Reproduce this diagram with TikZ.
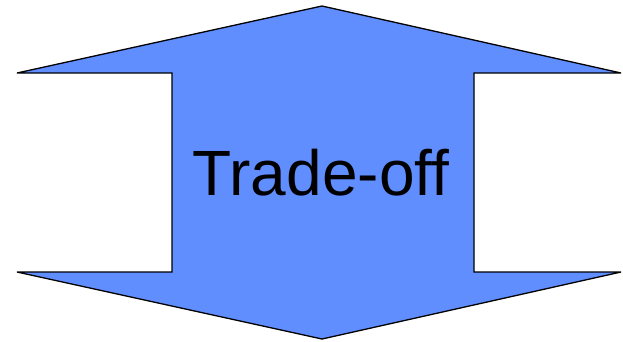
\documentclass[tikz,border=0pt]{standalone}
\usepackage{fontspec}
\setmainfont{Liberation Sans}
\definecolor{arrowblue}{RGB}{96,142,255}
\begin{document}
\begin{tikzpicture}[x=1pt,y=-1pt,
  shapestyle/.style={fill=arrowblue,draw=black,line width=1.3pt,line join=miter,miter limit=2},
  labelstyle/.style={font=\fontsize{64}{70}\selectfont,text=black}]
\useasboundingbox (0,0) rectangle (623,341);
\draw[shapestyle] (322,6) -- (621,73) -- (474,73) -- (474,272) -- (621,272)
  -- (322,339) -- (17,272) -- (172,272) -- (172,73) -- (17,73) -- cycle;
\node[labelstyle] (label) at (321,173) {Trade-off};
\end{tikzpicture}
\end{document}
